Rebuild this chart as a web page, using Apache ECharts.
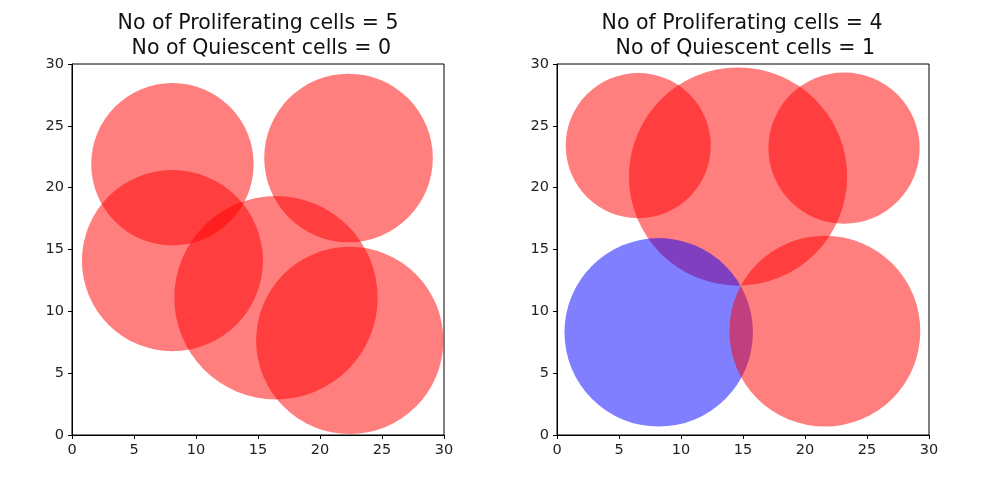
<!DOCTYPE html>
<html>
<head>
<meta charset="utf-8">
<script src="https://cdn.jsdelivr.net/npm/echarts@6/dist/echarts.min.js"></script>
<style>
  html, body { margin: 0; padding: 0; background: #fff; }
  #chart { width: 1000px; height: 500px; }
</style>
</head>
<body>
<div id="chart"></div>
<script>
// cell centres and radii (axis units)
const leftX = [8.1, 22.3, 8.1, 16.45, 22.4];
const leftY = [21.9, 22.4, 14.1, 11.1, 7.65];
const leftR = [6.55, 6.8, 7.3, 8.2, 7.55];
const leftState = ['P', 'P', 'P', 'P', 'P'];

const rightX = [6.55, 14.6, 23.15, 8.2, 21.6];
const rightY = [23.4, 20.9, 23.2, 8.3, 8.4];
const rightR = [5.85, 8.8, 6.1, 7.6, 7.7];
const rightState = ['P', 'P', 'P', 'Q', 'P'];

const countOf = (arr, s) => arr.filter(v => v === s).length;
const titleOf = st =>
    'No of Proliferating cells = ' + countOf(st, 'P') +
    '\n No of Quiescent cells = ' + countOf(st, 'Q');

const FONT = 'DejaVu Sans';
const stateColor = { P: 'rgba(255,0,0,0.5)', Q: 'rgba(0,0,255,0.5)' };

function circles(xs, ys, rs, st, idx) {
    return {
        type: 'custom',
        xAxisIndex: idx,
        yAxisIndex: idx,
        clip: true,
        data: xs.map((x, i) => [x, ys[i], rs[i], i]),
        renderItem(params, api) {
            const c = api.coord([api.value(0), api.value(1)]);
            const r = api.size([api.value(2), 0])[0];
            return {
                type: 'circle',
                shape: { cx: c[0], cy: c[1], r: r },
                style: { fill: stateColor[st[api.value(3)]] }
            };
        }
    };
}

function axis(idx) {
    return {
        type: 'value', gridIndex: idx, min: 0, max: 30, interval: 5,
        axisLine: { show: true, onZero: false, lineStyle: { color: '#000', width: 1 } },
        axisTick: { show: true, length: 4, lineStyle: { color: '#000' } },
        axisLabel: { color: '#222', fontFamily: FONT, fontSize: 14.5, margin: 8 },
        splitLine: { show: false }
    };
}

const titleStyle = { fontFamily: FONT, fontSize: 20.5, fontWeight: 'normal', color: '#111', lineHeight: 25 };

const chart = echarts.init(document.getElementById('chart'));
chart.setOption({
    animation: false,
    backgroundColor: '#fff',
    title: [
        { text: titleOf(leftState), left: 253, top: 6, textAlign: 'center', textStyle: titleStyle },
        { text: titleOf(rightState), left: 737, top: 6, textAlign: 'center', textStyle: titleStyle }
    ],
    grid: [
        { left: 72, top: 64, width: 372, height: 371, show: true, borderColor: '#000', borderWidth: 1, backgroundColor: 'transparent' },
        { left: 557, top: 64, width: 372, height: 371, show: true, borderColor: '#000', borderWidth: 1, backgroundColor: 'transparent' }
    ],
    xAxis: [axis(0), axis(1)],
    yAxis: [axis(0), axis(1)],
    series: [
        circles(leftX, leftY, leftR, leftState, 0),
        circles(rightX, rightY, rightR, rightState, 1)
    ]
});
window.addEventListener('resize', () => chart.resize());
</script>
</body>
</html>
